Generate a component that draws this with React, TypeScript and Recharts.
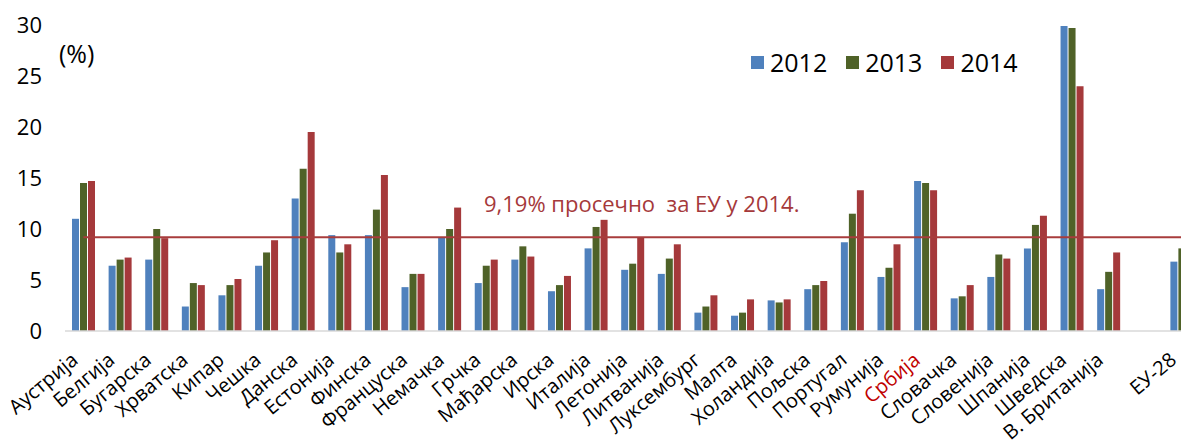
import React from 'react';
import { BarChart, Bar, XAxis, YAxis, ReferenceLine } from 'recharts';

const categories = ['Аустрија','Белгија','Бугарска','Хрватска','Кипар','Чешка','Данска','Естонија','Финска','Француска','Немачка','Грчка','Мађарска','Ирска','Италија','Летонија','Литванија','Луксембург','Малта','Холандија','Пољска','Португал','Румунија','Србија','Словачка','Словенија','Шпанија','Шведска','В. Британија','','ЕУ-28'];
const v2012 = [11.0, 6.4, 7.0, 2.4, 3.5, 6.4, 13.0, 9.4, 9.4, 4.3, 9.2, 4.7, 7.0, 3.9, 8.1, 6.0, 5.6, 1.8, 1.5, 3.0, 4.1, 8.7, 5.3, 14.7, 3.2, 5.3, 8.1, 29.9, 4.1, null, 6.8];
const v2013 = [14.5, 7.0, 10.0, 4.7, 4.5, 7.7, 15.9, 7.7, 11.9, 5.6, 10.0, 6.4, 8.3, 4.5, 10.2, 6.6, 7.1, 2.4, 1.8, 2.8, 4.5, 11.5, 6.2, 14.5, 3.4, 7.5, 10.4, 29.7, 5.8, null, 8.1];
const v2014 = [14.7, 7.2, 9.1, 4.5, 5.1, 8.9, 19.5, 8.5, 15.3, 5.6, 12.1, 7.0, 7.3, 5.4, 10.9, 9.2, 8.5, 3.5, 3.1, 3.1, 4.9, 13.8, 8.5, 13.8, 4.5, 7.1, 11.3, 24.0, 7.7, null, 9.2];
const seriesNames = ['2012', '2013', '2014'];
const yTicks = [0, 5, 10, 15, 20, 25, 30];
const euAverage = 9.19;
const avgLabel = '9,19% просечно  за ЕУ у 2014.';
const highlighted = 'Србија';

const data = categories.map((name, i) => ({ name, y2012: v2012[i], y2013: v2013[i], y2014: v2014[i] }));

const COLORS = ['#4F81BD', '#4F6228', '#A5393B'];
const FONT = '"Open Sans", sans-serif';

const XTick = (props: any) => {
  const { x, y, payload } = props;
  const v = payload.value as string;
  const ax = x - 4;
  const ay = y + 23;
  return (
    <text
      x={ax}
      y={ay}
      transform={`rotate(-40, ${ax}, ${ay})`}
      textAnchor="end"
      fontFamily={FONT}
      fontSize={20}
      fill={v === highlighted ? '#C00000' : '#000'}
    >
      {v}
    </text>
  );
};

export default function App() {
  return (
    <div style={{ position: 'absolute', left: 0, top: 0, width: 1181, height: 446, overflow: 'hidden', background: '#fff' }}>
      <BarChart
        width={1200}
        height={446}
        data={data}
        margin={{ top: 25, right: 0, bottom: 0, left: 0 }}
        barSize={7}
        barGap={1}
      >
        <XAxis
          dataKey="name"
          interval={0}
          height={115}
          tickLine={false}
          axisLine={{ stroke: '#D9D9D9', strokeWidth: 1.5 }}
          tick={<XTick />}
        />
        <YAxis
          width={65}
          domain={[0, 30]}
          ticks={yTicks}
          axisLine={false}
          tickLine={false}
          tickSize={0}
          tickMargin={23}
          tick={{ fontFamily: FONT, fontSize: 22, fill: '#000' }}
        />
        <Bar dataKey="y2012" name={seriesNames[0]} fill={COLORS[0]} isAnimationActive={false} />
        <Bar dataKey="y2013" name={seriesNames[1]} fill={COLORS[1]} isAnimationActive={false} />
        <Bar dataKey="y2014" name={seriesNames[2]} fill={COLORS[2]} isAnimationActive={false} />
        <ReferenceLine
          segment={[{ x: 'Аустрија', y: euAverage }, { x: 'ЕУ-28', y: euAverage }]}
          stroke="#A83C3C"
          strokeWidth={2}
          ifOverflow="visible"
        />
      </BarChart>
      <div style={{ position: 'absolute', left: 751, top: 47, display: 'flex', alignItems: 'center', fontFamily: FONT, fontSize: 25, lineHeight: '30px', color: '#000' }}>
        {seriesNames.map((s, i) => (
          <div key={s} style={{ display: 'flex', alignItems: 'center', marginRight: 19 }}>
            <span style={{ display: 'inline-block', width: 13, height: 13, background: COLORS[i], marginRight: 6 }} />
            <span>{s}</span>
          </div>
        ))}
      </div>
      <div style={{ position: 'absolute', left: 59, top: 38, fontFamily: FONT, fontSize: 25, lineHeight: '30px', color: '#000' }}>(%)</div>
      <div style={{ position: 'absolute', left: 484, top: 188, fontFamily: FONT, fontSize: 22, lineHeight: '30px', color: '#A5393B', whiteSpace: 'pre' }}>{avgLabel}</div>
    </div>
  );
}
